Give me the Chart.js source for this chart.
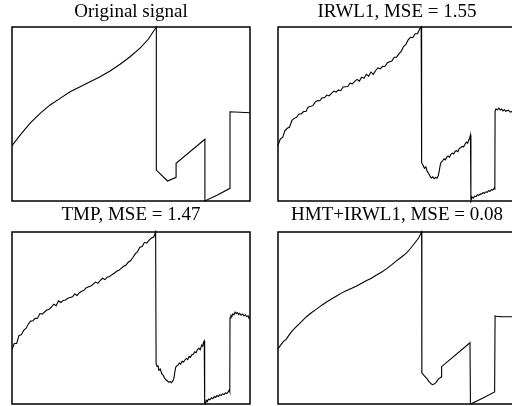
<!DOCTYPE html>
<html>
<head>
<meta charset="utf-8">
<script src="https://cdn.jsdelivr.net/npm/chart.js@4/dist/chart.umd.min.js"></script>
<style>
  body { margin: 0; width: 512px; height: 406px; overflow: hidden; position: relative; background: #fff; }
  canvas { position: absolute; }
</style>
</head>
<body>
<canvas id="c0" width="262" height="203" style="left:0px;top:0px"></canvas>
<canvas id="c1" width="262" height="203" style="left:266px;top:0px"></canvas>
<canvas id="c2" width="262" height="203" style="left:0px;top:203px"></canvas>
<canvas id="c3" width="262" height="203" style="left:266px;top:203px"></canvas>
<script>
const titles = ['Original signal', 'IRWL1, MSE = 1.55', 'TMP, MSE = 1.47', 'HMT+IRWL1, MSE = 0.08'];

// sample index (0..1024) and amplitude
const origX = [0, 35, 78, 121, 164, 207, 250, 293, 336, 379, 422, 465, 508, 551, 587, 621, 621, 669, 706, 706, 830, 830, 884, 938, 938, 1024];
const origY = [31.8, 37.9, 44.7, 50.4, 55.2, 59.0, 62.8, 65.7, 68.6, 71.4, 74.7, 78.6, 82.9, 87.8, 93.1, 100, 17.8, 11.5, 13.6, 21.7, 35.5, 0, 3.4, 7.3, 51.3, 50.7];

const irwlX = [0,10,20,30,40,50,60,70,80,90,100,110,120,130,140,150,160,170,180,190,200,210,220,230,240,250,260,270,280,290,300,310,320,330,340,350,360,370,380,390,400,410,420,430,440,450,460,470,480,490,500,510,520,530,540,550,560,570,580,590,600,610,616,
  618,624,630,636,642,648,654,660,666,672,678,684,690,694,698,702,708,714,720,726,732,738,744,750,756,762,768,774,780,786,792,798,804,810,816,822,825,828,
  830,834,840,846,852,858,864,870,876,882,888,894,900,906,912,918,924,930,933,
  934,938,944,950,956,962,968,974,980,990,1000,1012,1024];
const irwlY = [31.8,35.7,36.5,40.5,41.8,42.5,46.3,47.5,48.1,50.0,50.0,51.4,51.4,54.0,54.3,54.8,56.8,57.7,57.6,59.3,59.3,60.9,60.4,61.9,63.2,62.6,63.8,63.4,65.5,65.7,65.8,67.7,67.3,68.7,69.9,68.9,71.2,70.5,72.8,71.7,74.1,72.8,75.0,76.5,75.9,77.4,77.3,79.3,80.0,80.5,82.6,82.7,84.5,86.0,88.8,90.0,92.6,94.1,93.9,96.1,96.1,99.0,100,
  22.0,20.5,18.8,19.6,17.0,15.8,14.3,13.2,13.9,12.8,13.6,13.1,14.8,17.5,20.6,22.4,23.0,24.3,23.6,25.2,25.9,25.1,26.8,27.5,27.0,28.6,28.9,28.3,30.2,30.6,31.4,31.0,32.5,33.9,33.2,35.6,36.4,37.9,
  0.0,2.4,1.6,2.8,2.5,3.6,3.2,4.1,3.9,4.8,4.4,5.3,5.0,5.9,5.6,6.5,6.3,7.4,7.0,
  51.5,53.0,52.4,53.4,52.3,52.9,51.8,52.5,51.6,52.2,51.1,51.7,50.8];

const tmpX = [0,10,20,30,40,50,60,70,80,90,100,110,120,130,140,150,160,170,180,190,200,210,220,230,240,250,260,270,280,290,300,310,320,330,340,350,360,370,380,390,400,410,420,430,440,450,460,470,480,490,500,510,520,530,540,550,560,570,580,590,600,610,618,
  620,624,628,632,638,644,650,656,662,668,674,680,686,692,696,700,704,708,714,720,726,732,738,744,750,756,762,768,774,780,786,792,798,804,810,816,820,824,827,
  829,832,836,840,846,852,858,864,870,876,882,888,894,900,906,912,918,924,930,935,937,
  938,942,946,950,955,960,965,970,975,980,986,992,998,1004,1010,1016,1020,1024];
const tmpY = [31.8,35.2,35.2,39.9,40.2,42.8,43.9,46.4,48.2,48.4,49.8,49.9,52.6,52.3,53.5,54.6,55.1,56.4,58.0,57.1,60.0,59.0,60.2,60.5,61.5,61.9,62.3,64.0,63.1,64.7,65.5,66.2,67.6,68.2,68.6,69.8,70.9,70.2,71.9,73.1,72.3,73.7,74.1,75.2,76.0,77.2,77.7,78.9,80.1,80.7,82.4,83.3,85.2,87.3,88.5,91.1,91.5,94.0,93.5,95.3,96.5,97.1,100,
  23.5,21.8,22.4,19.6,20.3,17.6,16.8,15.2,14.1,13.5,12.7,13.0,12.4,13.4,14.6,18.0,21.2,22.0,22.6,23.8,23.2,24.9,24.4,25.6,26.5,25.8,27.6,27.2,28.7,28.9,30.4,29.8,31.7,32.4,31.6,34.2,33.6,35.8,36.6,
  0.4,0.0,2.2,1.4,2.9,2.4,3.6,3.1,4.3,3.8,4.9,4.4,5.4,5.0,5.9,5.5,6.4,6.1,7.0,8.2,7.2,
  50.1,51.5,50.8,52.4,51.8,53.4,52.6,53.2,52.0,52.7,51.6,52.3,51.2,51.9,50.8,51.3,49.8,50.4];

const hmtX = [0,12,24,35,48,62,78,100,121,145,164,190,207,230,250,275,293,320,336,360,379,400,422,445,465,490,508,530,551,570,587,605,618,
  619,628,640,652,664,672,680,690,702,704,826,
  828,834,838,880,932,
  934,940,960,1000,1024];
const hmtY = [32.0,34.4,36.4,37.6,40.2,42.6,44.9,47.8,50.6,53.2,55.0,57.6,59.2,61.0,62.6,64.6,65.9,67.5,68.5,70.2,71.6,73.0,74.9,76.6,78.4,81.0,83.1,85.3,87.6,90.4,93.3,96.5,100,
  18.0,16.6,14.9,12.6,11.2,11.6,12.6,14.5,15.6,21.7,35.6,
  0.2,0.0,0.6,3.4,7.0,
  51.2,51.0,50.8,50.7,50.6];

const framePlugin = {
    id: 'frame',
    afterDraw(chart) {
        const { ctx, chartArea: a } = chart;
        ctx.save();
        ctx.strokeStyle = '#000';
        ctx.lineWidth = 1.5;
        ctx.strokeRect(a.left, a.top, a.right - a.left, a.bottom - a.top);
        ctx.restore();
    }
};

function makeChart(id, title, xs, ys, gap) {
    const ctx = document.getElementById(id).getContext('2d');
    return new Chart(ctx, {
        type: 'line',
        data: {
            datasets: [{
                data: xs.map((x, i) => ({ x: x, y: ys[i] })),
                borderColor: '#000',
                borderWidth: 1.1,
                pointRadius: 0,
                tension: 0,
                clip: 2
            }]
        },
        options: {
            responsive: false,
            animation: false,
            layout: { padding: { left: 12, right: 12, top: 0, bottom: 2 } },
            scales: {
                x: { type: 'linear', min: 0, max: 1024, display: false },
                y: { min: 0, max: 100, display: false }
            },
            plugins: {
                legend: { display: false },
                tooltip: { enabled: false },
                title: {
                    display: true,
                    text: title,
                    color: '#000',
                    font: { family: 'Liberation Serif', size: 19, weight: 'normal', lineHeight: 1.2 },
                    padding: { top: 0.8, bottom: gap }
                }
            }
        },
        plugins: [framePlugin]
    });
}

makeChart('c0', titles[0], origX, origY, 3.4);
makeChart('c1', titles[1], irwlX, irwlY, 3.4);
makeChart('c2', titles[2], tmpX, tmpY, 5.4);
makeChart('c3', titles[3], hmtX, hmtY, 5.4);
</script>
</body>
</html>
